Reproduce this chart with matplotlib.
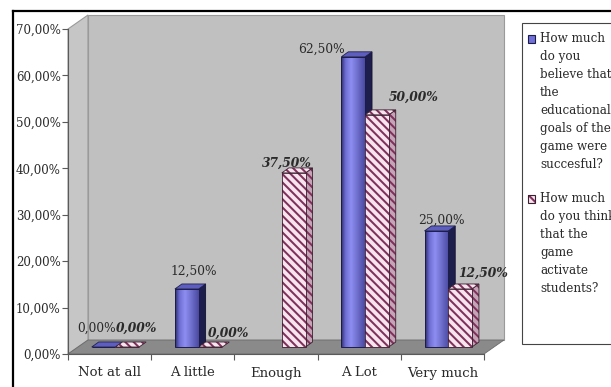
import matplotlib
matplotlib.use("Agg")
import numpy as np
import matplotlib.pyplot as plt
from matplotlib.patches import Polygon, Rectangle
from matplotlib.lines import Line2D
from matplotlib.colors import LinearSegmentedColormap
from matplotlib.ticker import FuncFormatter, FixedLocator

# ---- data -------------------------------------------------------------
categories = ["Not at all", "A little", "Enough", "A Lot", "Very much"]
goals_successful = [0.0, 12.5, np.nan, 62.5, 25.0]     # %
game_activates = [0.0, 0.0, 37.5, 50.0, 12.5]          # %
series_labels = [
    "How much\ndo you\nbelieve that\nthe\neducational\ngoals of the\ngame were\nsuccesful?",
    "How much\ndo you think\nthat the\ngame\nactivate\nstudents?",
]
y_ticks = [0, 10, 20, 30, 40, 50, 60, 70]

# ---- style ------------------------------------------------------------
plt.rcParams["font.family"] = ["DejaVu Serif"]
plt.rcParams["hatch.linewidth"] = 1.45
TXT = "#2a2a2a"
MAROON = "#80305a"
HATCH_BG = "#f6e4ee"
HATCH = "\\\\\\\\"
blue_cmap = LinearSegmentedColormap.from_list(
    "bluebar", [(0.0, "#2c2c6c"), (0.18, "#6c6cd2"), (0.42, "#8e8ef2"), (1.0, "#4a4aa2")])

W, H = 611, 387
fig = plt.figure(figsize=(W / 100, H / 100), dpi=100)
fig.patch.set_facecolor("white")


def fx(px):
    return px / W


def fy(py):
    return 1 - py / H


ax = fig.add_axes([fx(68), fy(354), fx(484) - fx(68), fy(29) - fy(354)])
ax.set_xlim(-0.5, len(categories) - 0.5)
ax.set_ylim(0, 70)
ax.patch.set_visible(False)

# pixel -> data conversions for the pseudo-3D depth
ppx = (fx(484) - fx(68)) * W / len(categories)
ppy = (fy(29) - fy(354)) * H / 70
wall_dx, wall_dy = 20 / ppx, 14 / ppy
bar_dx, bar_dy = 7 / ppx, 5 / ppy
lift = 7 / ppy

x0, x1 = -0.5, len(categories) - 0.5
# side wall, back wall and floor
ax.add_patch(Polygon([(x0, 0), (x0, 70), (x0 + wall_dx, 70 + wall_dy), (x0 + wall_dx, wall_dy)],
                     facecolor="#c6c6c6", edgecolor="#9a9a9a", lw=0.8, clip_on=False, zorder=0))
ax.add_patch(Polygon([(x0 + wall_dx, wall_dy), (x0 + wall_dx, 70 + wall_dy),
                      (x1 + wall_dx, 70 + wall_dy), (x1 + wall_dx, wall_dy)],
                     facecolor="#c0c0c0", edgecolor="#9a9a9a", lw=0.8, clip_on=False, zorder=0))
ax.add_patch(Polygon([(x0, 0), (x1, 0), (x1 + wall_dx, wall_dy), (x0 + wall_dx, wall_dy)],
                     facecolor="#8a8a8a", edgecolor="#6a6a6a", lw=0.6, clip_on=False, zorder=1))

idx = np.arange(len(categories))
width = 0.285
blue_left = idx - 0.215
hatch_left = idx + 0.07


def faces(left, value):
    top = lift + value
    side = [(left + width, lift), (left + width + bar_dx, lift + bar_dy),
            (left + width + bar_dx, top + bar_dy), (left + width, top)]
    cap = [(left, top), (left + bar_dx, top + bar_dy),
           (left + width + bar_dx, top + bar_dy), (left + width, top)]
    return side, cap


def draw_series(lefts, values, kind):
    vals = np.array(values, dtype=float)
    for left, v in zip(lefts, vals):
        if np.isnan(v):
            continue
        side, cap = faces(left, v)
        if kind == "blue":
            if v > 0:
                ax.add_patch(Polygon(side, facecolor="#1e1e4c", edgecolor="#101030",
                                     lw=0.6, clip_on=False, zorder=3))
            ax.add_patch(Polygon(cap, facecolor="#5e5ebe", edgecolor="#202050",
                                 lw=0.6, clip_on=False, zorder=3))
        else:
            for poly, bg in ((side, "#c4a4b6"), (cap, HATCH_BG)):
                ax.add_patch(Polygon(poly, facecolor=bg, edgecolor=MAROON, hatch=HATCH,
                                     lw=0, clip_on=False, zorder=3))
                if v > 0 or poly is cap:
                    ax.add_patch(Polygon(poly, fill=False, edgecolor="#3a2030",
                                         lw=0.6, clip_on=False, zorder=3))
    good = ~np.isnan(vals)
    if kind == "blue":
        bars = ax.bar(np.asarray(lefts)[good], vals[good], width=width, bottom=lift,
                      align="edge", facecolor="none", edgecolor="#1c1c48", lw=0.7,
                      zorder=4, clip_on=False)
        grad = np.linspace(0, 1, 64).reshape(1, -1)
        for r in bars:
            if r.get_height() <= 0:
                continue
            im = ax.imshow(grad, cmap=blue_cmap, aspect="auto", zorder=3.5,
                           extent=(r.get_x(), r.get_x() + r.get_width(),
                                   r.get_y(), r.get_y() + r.get_height()))
            im.set_clip_path(r)
    else:
        bars = ax.bar(np.asarray(lefts)[good], vals[good], width=width, bottom=lift,
                      align="edge", facecolor=HATCH_BG, edgecolor=MAROON, hatch=HATCH,
                      lw=0, zorder=4, clip_on=False)
        ax.bar(np.asarray(lefts)[good], vals[good], width=width, bottom=lift,
               align="edge", fill=False, edgecolor="#3a2030", lw=0.6, zorder=4.1,
               clip_on=False)
    return bars


# draw category by category so each hatched bar overlaps its blue neighbour
for i in idx:
    draw_series([blue_left[i]], [goals_successful[i]], "blue")
    draw_series([hatch_left[i]], [game_activates[i]], "hatch")

ax.set_xlim(-0.5, len(categories) - 0.5)
ax.set_ylim(0, 70)


def pct(v):
    return f"{v:.2f}%".replace(".", ",")


blue_offsets = [(-11, 14), (4, 13), (0, 0), (-35, 3), (2, 6)]
hatch_offsets = [(6, 14), (15, 9), (-10, 5), (33, 13), (20, 11)]
for lefts, vals, offs, style in ((blue_left, goals_successful, blue_offsets, ("normal", "normal")),
                                 (hatch_left, game_activates, hatch_offsets, ("italic", "bold"))):
    for left, v, off in zip(lefts, vals, offs):
        if np.isnan(v):
            continue
        ax.annotate(pct(v), (left + width / 2 + bar_dx / 2, lift + v + bar_dy),
                    xytext=off, textcoords="offset pixels", ha="center", va="center",
                    fontsize=8.8, style=style[0], weight=style[1], color=TXT,
                    annotation_clip=False, zorder=6)

# axes, ticks and labels
for s in ("top", "right"):
    ax.spines[s].set_visible(False)
ax.spines["left"].set_color("#5a5a5a")
ax.spines["bottom"].set_color("#5a5a5a")
ax.spines["left"].set_zorder(2)
ax.spines["bottom"].set_zorder(2)
ax.yaxis.set_major_locator(FixedLocator(y_ticks))
ax.yaxis.set_major_formatter(FuncFormatter(lambda v, p: pct(v)))
ax.tick_params(axis="y", length=4.3, width=0.8, color="#5a5a5a", pad=1,
               labelsize=8.5, labelcolor=TXT)
ax.set_xticks(idx)
ax.set_xticklabels(categories)
ax.set_xticks(np.arange(-0.5, len(categories)), minor=True)
ax.tick_params(axis="x", which="major", length=0, pad=9, labelsize=9.5, labelcolor=TXT)
ax.tick_params(axis="x", which="minor", length=4.3, width=0.8, color="#5a5a5a")

# outer frame
fig.add_artist(Line2D([fx(13), 1.0], [fy(11), fy(11)], transform=fig.transFigure,
                      color="black", lw=1.6))
fig.add_artist(Line2D([fx(13), fx(13)], [fy(11), 0.0], transform=fig.transFigure,
                      color="black", lw=1.6))

# legend
fig.add_artist(Rectangle((fx(522), fy(344)), 1.02 - fx(522), fy(23) - fy(344),
                         transform=fig.transFigure, facecolor="white",
                         edgecolor="#444444", lw=0.8))
fig.add_artist(Rectangle((fx(528), fy(43)), fx(535) - fx(528), fy(35) - fy(43),
                         transform=fig.transFigure, facecolor="#7070d8",
                         edgecolor="#1c1c48", lw=0.8))
fig.add_artist(Rectangle((fx(528), fy(203)), fx(535) - fx(528), fy(195) - fy(203),
                         transform=fig.transFigure, facecolor=HATCH_BG, edgecolor=MAROON,
                         hatch="\\\\\\", lw=0))
fig.add_artist(Rectangle((fx(528), fy(203)), fx(535) - fx(528), fy(195) - fy(203),
                         transform=fig.transFigure, fill=False, edgecolor="#3a2030", lw=0.8))
fig.text(fx(540), fy(32), series_labels[0], ha="left", va="top", fontsize=8.6,
         linespacing=1.5, color=TXT)
fig.text(fx(540), fy(192), series_labels[1], ha="left", va="top", fontsize=8.6,
         linespacing=1.5, color=TXT)

fig.savefig("out.png", dpi=100)
